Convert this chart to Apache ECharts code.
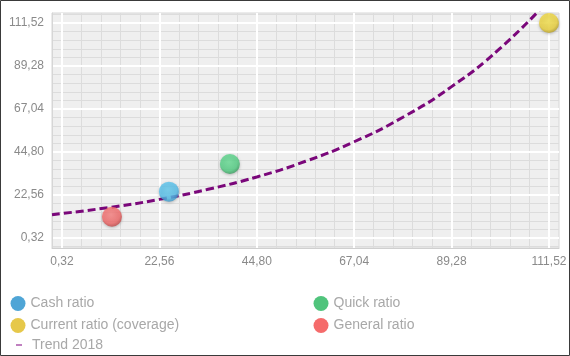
<!DOCTYPE html>
<html>
<head>
<meta charset="utf-8">
<script src="https://cdn.jsdelivr.net/npm/echarts@6/dist/echarts.min.js"></script>
<style>
html,body{margin:0;padding:0;background:#fff;}
#c{width:570px;height:356px;}
</style>
</head>
<body>
<div id="c"></div>
<script>
// ---- data ----
const seriesNames = ['Cash ratio', 'Quick ratio', 'Current ratio (coverage)', 'General ratio'];
const cashRatio = [[24.74, 24.27]];
const quickRatio = [[38.66, 38.59]];
const currentRatio = [[111.52, 111.52]];
const generalRatio = [[11.73, 11.34]];
const trendName = 'Trend 2018';
const trendX = [-1.96, 11.44, 22.56, 33.68, 44.80, 55.92, 67.04, 78.16, 89.28, 100.40, 111.52];
const trendY = [12.4, 16.2, 20.3, 25.5, 31.9, 40.0, 50.1, 62.8, 78.6, 98.5, 123.4];
const xTicks = [0.32, 22.56, 44.80, 67.04, 89.28, 111.52];
const yTicks = [0.32, 22.56, 44.80, 67.04, 89.28, 111.52];

// ---- axis extents ----
const X_MIN = -1.96, X_MAX = 113.8;
const Y_MIN = -4.85, Y_MAX = 116.69;

function minorValues(ticks, parts, lo, hi) {
  const step = (ticks[1] - ticks[0]) / parts;
  const out = [];
  const start = ticks[0] - step * parts;
  const end = ticks[ticks.length - 1] + step * parts;
  for (let v = start; v <= end + 1e-9; v += step) {
    const r = Math.round(v * 1000) / 1000;
    if (r > lo && r < hi) out.push(r);
  }
  return out;
}
const xMinor = minorValues(xTicks, 5, X_MIN, X_MAX);
const yMinor = minorValues(yTicks, 5, Y_MIN, Y_MAX);

const fmt = v => v.toFixed(2).replace('.', ',');

function ball(light, base, dark) {
  return new echarts.graphic.RadialGradient(0.45, 0.4, 0.62, [
    { offset: 0, color: light },
    { offset: 0.7, color: base },
    { offset: 1, color: dark }
  ]);
}
const colors = {
  'Cash ratio': ['#66d0f5', '#55c0ec', '#3a94c8', '#4fa5d6'],
  'Quick ratio': ['#6ce39a', '#55d186', '#379a5c', '#50c47c'],
  'Current ratio (coverage)': ['#f9e650', '#eed43c', '#b39b24', '#e6c84a'],
  'General ratio': ['#ff8686', '#f46a6a', '#bd4545', '#f56b6b']
};
const dataMap = {
  'Cash ratio': cashRatio,
  'Quick ratio': quickRatio,
  'Current ratio (coverage)': currentRatio,
  'General ratio': generalRatio
};

const scatterSeries = seriesNames.map(n => ({
  name: n,
  type: 'scatter',
  xAxisIndex: 1,
  yAxisIndex: 1,
  symbolSize: 20,
  z: 3,
  data: dataMap[n],
  itemStyle: {
    color: ball(colors[n][0], colors[n][1], colors[n][2]),
    shadowBlur: 3,
    shadowColor: 'rgba(0,0,0,0.3)',
    shadowOffsetY: 1
  }
}));

const trendSeries = {
  name: trendName,
  type: 'line',
  xAxisIndex: 1,
  yAxisIndex: 1,
  smooth: true,
  showSymbol: false,
  clip: true,
  z: 2,
  data: trendX.map((x, i) => [x, trendY[i]]),
  lineStyle: { color: '#7a077a', width: 3, type: [8, 4] },
  itemStyle: { color: '#7a077a' }
};

const legendText = { color: '#a8a8a8', fontSize: 14, fontFamily: 'Liberation Sans, Arial, sans-serif' };
function legendFor(name, left, top) {
  const st = { color: colors[name][3], shadowBlur: 0, shadowColor: 'transparent', opacity: 1 };
  return {
    left: left, top: top, padding: 0,
    itemWidth: 15, itemHeight: 15,
    icon: 'circle',
    selectedMode: false,
    itemStyle: st,
    textStyle: legendText,
    data: [{ name: name, itemStyle: st }]
  };
}

const axisLabelStyle = { color: '#8a8a8a', fontSize: 12, fontFamily: 'Liberation Sans, Arial, sans-serif' };

const option = {
  animation: false,
  backgroundColor: '#ffffff',
  grid: {
    left: 52, right: 11, top: 13, bottom: 108,
    containLabel: false, outerBoundsMode: 'none',
    show: true, backgroundColor: '#efefef', borderColor: '#d6d6d6', borderWidth: 1
  },
  xAxis: [
    {
      type: 'value', position: 'bottom', min: X_MIN, max: X_MAX, z: 0,
      axisLine: { show: false }, axisLabel: { show: false },
      axisTick: { show: false, customValues: xMinor },
      splitLine: { show: true, lineStyle: { color: '#dcdcdc', width: 1 } }
    },
    {
      type: 'value', position: 'bottom', min: X_MIN, max: X_MAX, z: 1,
      axisLine: { show: true, onZero: false, lineStyle: { color: '#cfcfcf', width: 1 } },
      axisTick: { show: false, customValues: xTicks },
      axisLabel: Object.assign({ customValues: xTicks, formatter: fmt, margin: 8 }, axisLabelStyle),
      splitLine: { show: true, lineStyle: { color: '#ffffff', width: 2 } }
    }
  ],
  yAxis: [
    {
      type: 'value', position: 'left', min: Y_MIN, max: Y_MAX, z: 0,
      axisLine: { show: false }, axisLabel: { show: false },
      axisTick: { show: false, customValues: yMinor },
      splitLine: { show: true, lineStyle: { color: '#dcdcdc', width: 1 } }
    },
    {
      type: 'value', position: 'left', min: Y_MIN, max: Y_MAX, z: 1,
      axisLine: { show: true, onZero: false, lineStyle: { color: '#d6d6d6', width: 1 } },
      axisTick: { show: false, customValues: yTicks },
      axisLabel: Object.assign({ customValues: yTicks, formatter: fmt, margin: 8 }, axisLabelStyle),
      splitLine: { show: true, lineStyle: { color: '#ffffff', width: 2 } }
    }
  ],
  legend: [
    legendFor('Cash ratio', 10.5, 296),
    legendFor('Quick ratio', 313.5, 296),
    legendFor('Current ratio (coverage)', 10.5, 318),
    legendFor('General ratio', 313.5, 318),
    {
      left: 16, top: 338, padding: 0,
      itemWidth: 6, itemHeight: 2, icon: 'rect',
      selectedMode: false,
      itemStyle: { color: '#c080c0', borderWidth: 0 },
      textStyle: Object.assign({ padding: [0, 0, 0, 5] }, legendText),
      data: [{ name: trendName, itemStyle: { color: '#c080c0', borderWidth: 0 } }]
    }
  ],
  graphic: [{
    type: 'rect', silent: true, z: 100,
    shape: { x: 0.5, y: 0.5, width: 569, height: 355 },
    style: { fill: 'none', stroke: '#3a3a3a', lineWidth: 1 }
  }],
  series: scatterSeries.concat([trendSeries])
};

const chart = echarts.init(document.getElementById('c'), null, { renderer: 'canvas' });
chart.setOption(option);
</script>
</body>
</html>
